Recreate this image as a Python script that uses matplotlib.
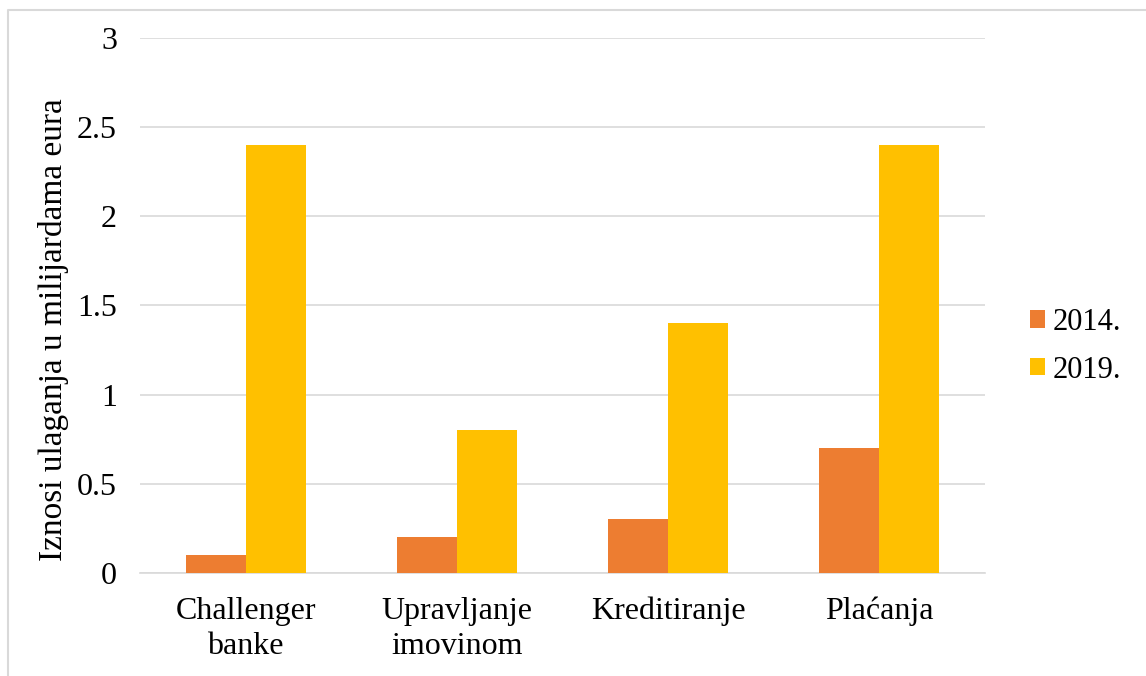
import matplotlib.pyplot as plt
import numpy as np
from matplotlib.lines import Line2D

plt.rcParams['font.family'] = ['Liberation Serif', 'DejaVu Serif']

categories = ['Challenger\nbanke', 'Upravljanje\nimovinom', 'Kreditiranje', 'Plaćanja']
v2014 = [0.1, 0.2, 0.3, 0.7]
v2019 = [2.4, 0.8, 1.4, 2.4]
yticks = [0, 0.5, 1, 1.5, 2, 2.5, 3]
ytick_labels = ['0', '0.5', '1', '1.5', '2', '2.5', '3']

fig = plt.figure(figsize=(11.46, 6.76), dpi=100)
ax = fig.add_axes([0.1222, 0.1524, 0.7373, 0.7914])

# light frame on the left and top of the chart
fx, fy = 7.5 / 1146, 1 - 9.5 / 676
fig.lines.append(Line2D([fx, fx, 1.0], [0, fy, fy], transform=fig.transFigure,
                        color='#d9d9d9', linewidth=1.5))

x = np.arange(len(categories))
w = 0.284
ax.bar(x - w / 2, v2014, width=w, color='#ED7D31', label='2014.', zorder=3)
ax.bar(x + w / 2, v2019, width=w, color='#FFC000', label='2019.', zorder=3)

ax.set_xlim(-0.5, len(categories) - 0.5)
ax.set_ylim(0, 3)
ax.set_yticks(yticks)
ax.set_yticklabels(ytick_labels, fontsize=23)
ax.set_xticks(x)
ax.set_xticklabels(categories, fontsize=23, linespacing=1.31)
ax.tick_params(axis='both', length=0)
ax.tick_params(axis='y', pad=16.5)
ax.tick_params(axis='x', pad=17)
ax.grid(axis='y', color='#d9d9d9', linewidth=1.2, zorder=0)
for s in ['top', 'right', 'left']:
    ax.spines[s].set_visible(False)
ax.spines['bottom'].set_color('#d9d9d9')
ax.spines['bottom'].set_linewidth(1.2)

ax.set_ylabel('Iznosi ulaganja u milijardama eura', fontsize=24)
ax.yaxis.set_label_coords(-0.0835, 0.454)

ax.legend(loc='center left', bbox_to_anchor=(1.053, 0.424), bbox_transform=ax.transAxes,
          frameon=False, fontsize=22, borderaxespad=0, borderpad=0,
          handlelength=0.5, handleheight=0.5, handletextpad=0.26, labelspacing=0.62)

plt.savefig('out.png')
